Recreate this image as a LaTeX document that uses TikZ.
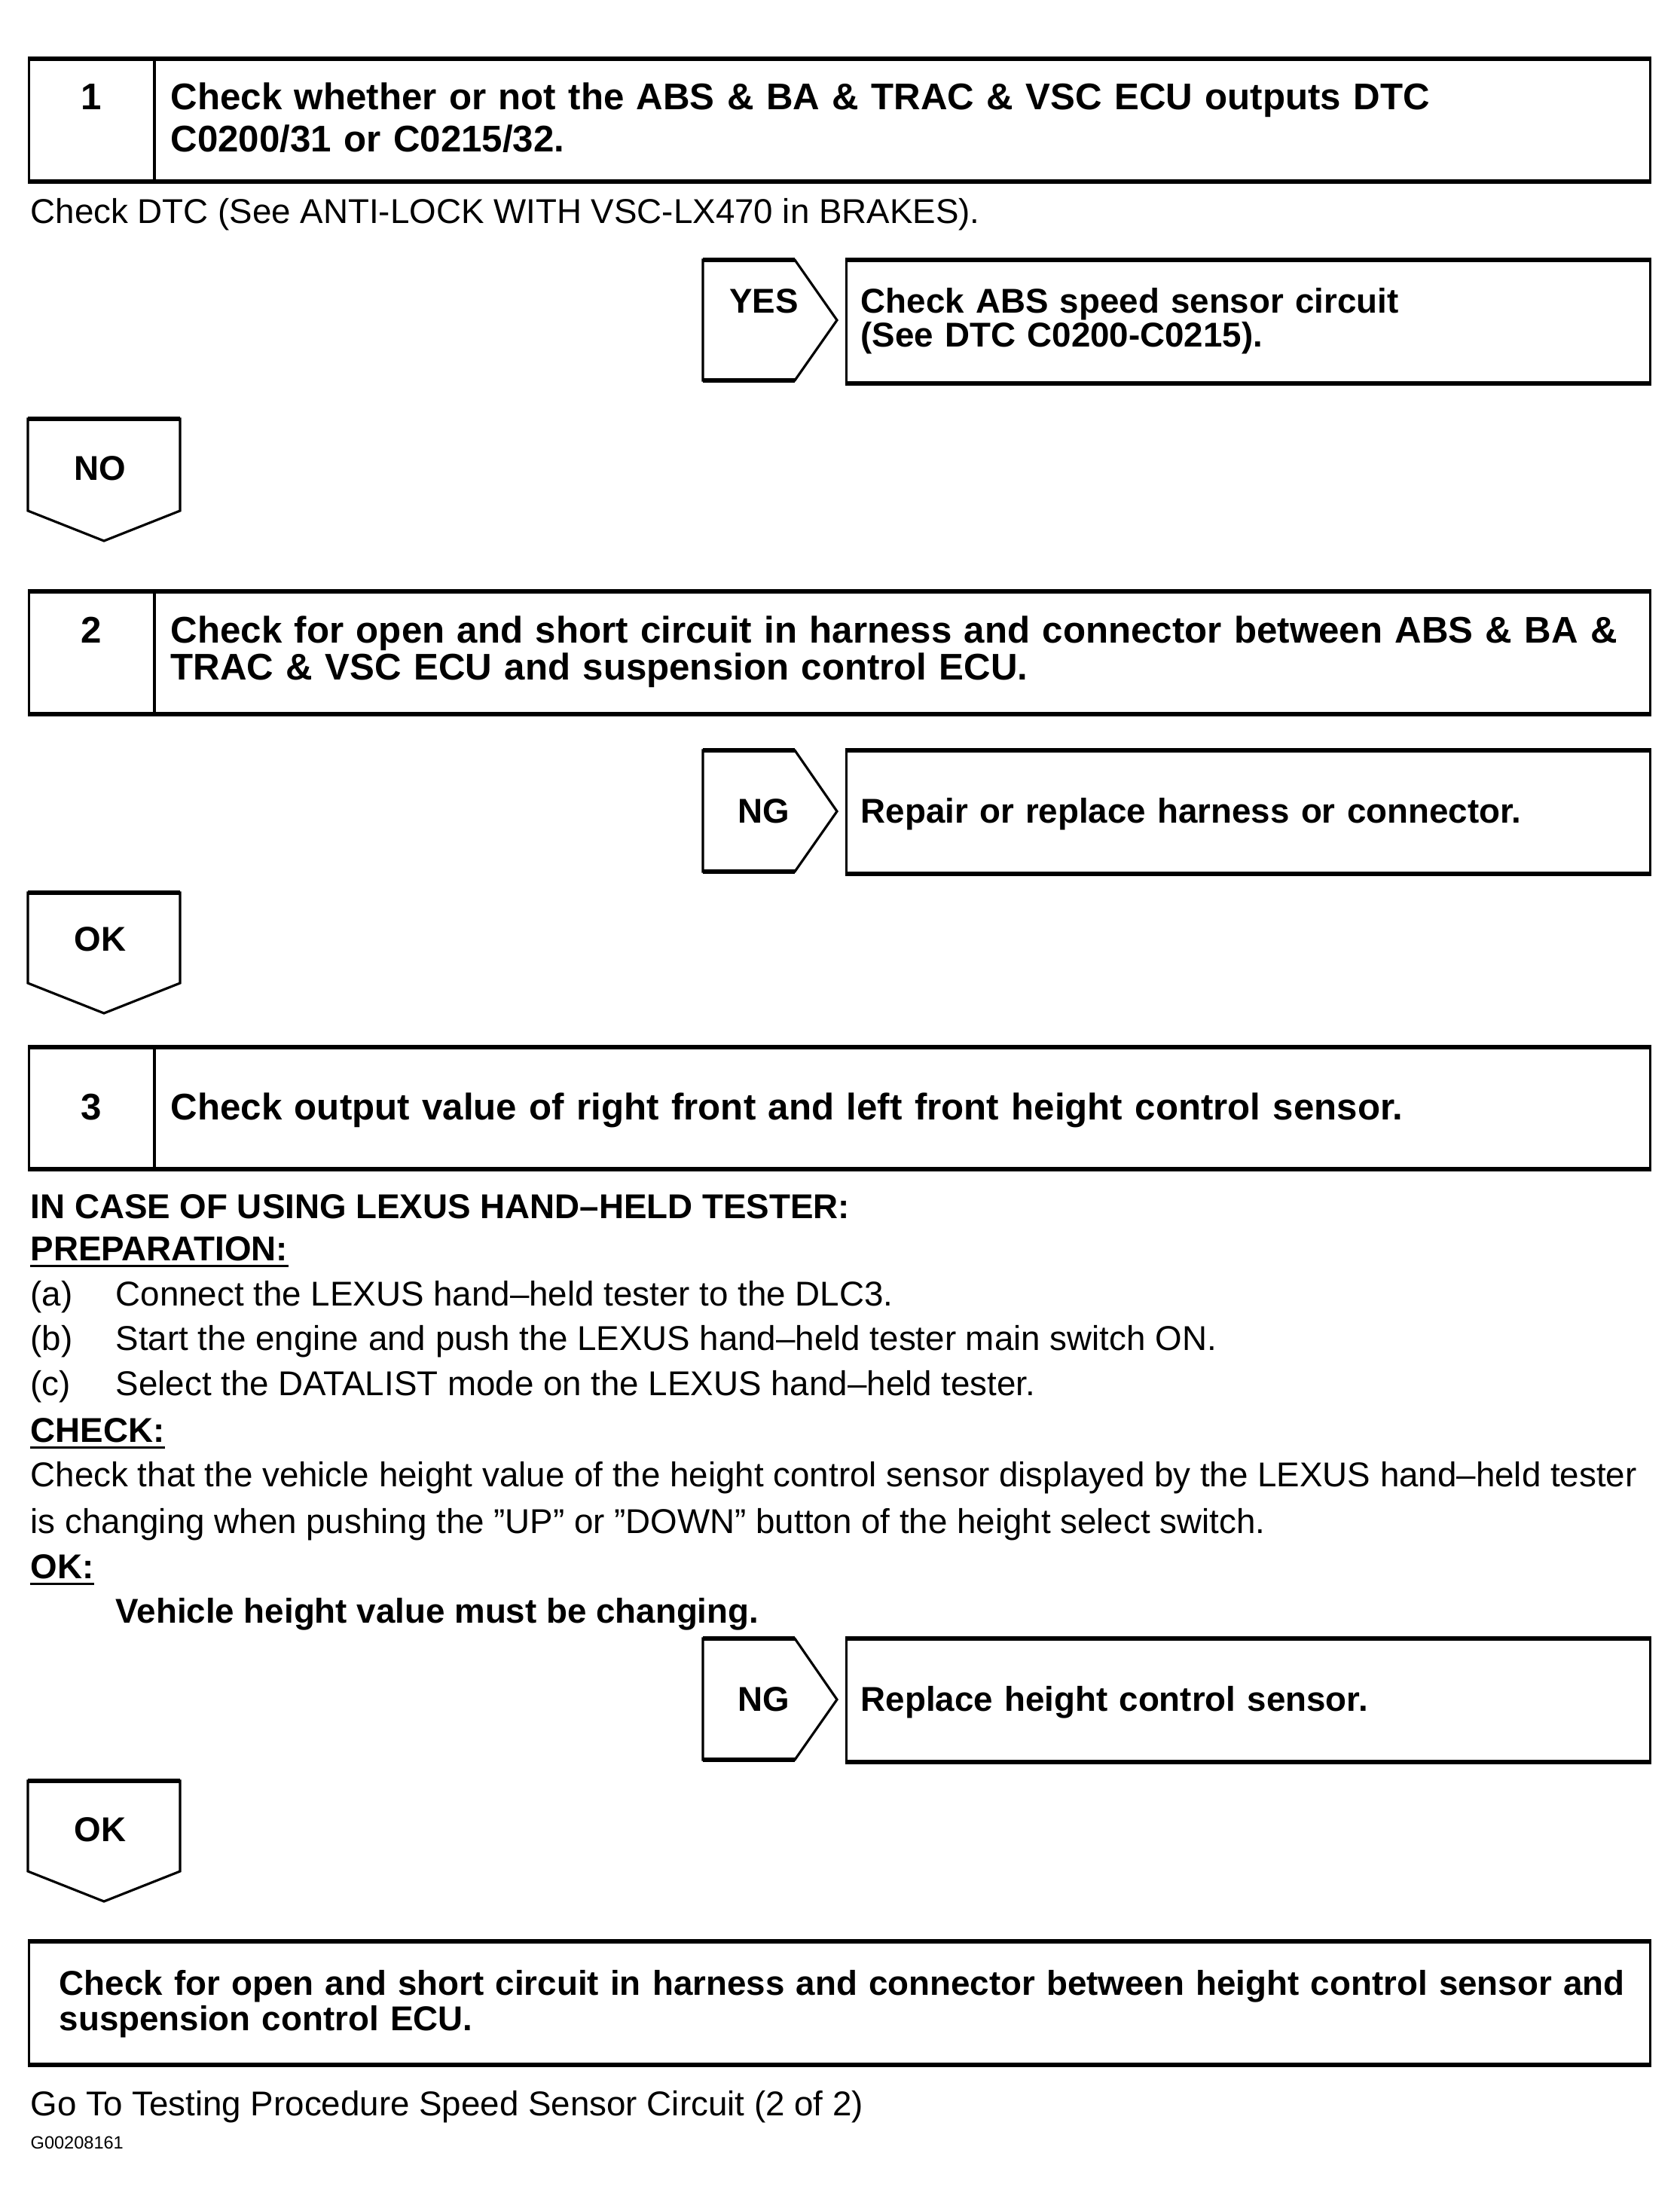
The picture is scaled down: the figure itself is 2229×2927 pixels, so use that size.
\documentclass[tikz,border=0pt]{standalone}
\usepackage{fontspec}
\setmainfont{Liberation Sans}
\usetikzlibrary{positioning}
\lineskiplimit=-20pt

\begin{document}
\begin{tikzpicture}[x=0.01cm, y=-0.01cm,
  frame/.style={draw, line width=0.9pt, line join=miter},
  edge/.style={line width=1.6pt},
  stepbox/.style={frame, rectangle, anchor=north west, minimum width=21.51cm, minimum height=1.60cm, inner sep=0pt},
  resbox/.style={frame, rectangle, anchor=north west, minimum width=10.66cm, minimum height=1.61cm, inner sep=0pt},
  stepnum/.style={anchor=base, inner sep=0pt, font=\bfseries\fontsize{14}{16.2}\selectfont},
  steptxt/.style={anchor=base west, inner sep=0pt, align=left, text width=19.5cm, font=\bfseries\fontsize{14}{16.2}\selectfont},
  tightxt/.style={steptxt, font=\bfseries\fontsize{14}{13}\selectfont},
  restxt/.style={anchor=base west, inner sep=0pt, align=left, text width=10.3cm, font=\bfseries\fontsize{13}{12.8}\selectfont},
  tag/.style={anchor=base, inner sep=0pt, font=\bfseries\fontsize{13}{15}\selectfont},
  body/.style={anchor=base west, inner sep=0pt, font=\fontsize{13}{17}\selectfont},
  head/.style={anchor=base west, inner sep=0pt, font=\bfseries\fontsize{13}{17}\selectfont},
  uline/.style={line width=0.8pt}
]
\useasboundingbox (0,0) rectangle (2229,2927);

% Step 1
\node[stepbox] (s1) at (37,78) {};
\draw[edge] (s1.north west) -- (s1.north east) (s1.south west) -- (s1.south east);
\draw[frame] (205,78) -- (205,238);
\node[stepnum] (n1) at (121,145) {1};
\node[steptxt] (t1) at (226,145)
   {Check whether or not the ABS \& BA \& TRAC \& VSC ECU outputs DTC\\C0200/31 or C0215/32.};
\node[body] (dtc) at (40,296) {Check DTC (See ANTI-LOCK WITH VSC-LX470 in BRAKES).};

% YES branch
\draw[frame] (933,345) -- (1055,345) -- (1111,425) -- (1055,505) -- (933,505) -- cycle;
\draw[edge] (933,345) -- (1055,345) (933,505) -- (1055,505);
\node[tag] (yes) at (1014,415) {YES};
\node[resbox] (r1) at (1122,345) {};
\draw[edge] (r1.north west) -- (r1.north east) (r1.south west) -- (r1.south east);
\node[restxt] (r1t) at (1142,415) {Check ABS speed sensor circuit\\(See DTC C0200-C0215).};

% NO
\draw[frame] (37,556) -- (239,556) -- (239,678) -- (138,718) -- (37,678) -- cycle;
\draw[edge] (37,556) -- (239,556);
\node[tag] (no) at (133,637) {NO};

% Step 2
\node[stepbox] (s2) at (37,785) {};
\draw[edge] (s2.north west) -- (s2.north east) (s2.south west) -- (s2.south east);
\draw[frame] (205,785) -- (205,945);
\node[stepnum] (n2) at (121,853) {2};
\node[tightxt] (t2) at (226,853)
   {Check for open and short circuit in harness and connector between ABS \& BA \&\\TRAC \& VSC ECU and suspension control ECU.};

% NG branch
\draw[frame] (933,996) -- (1055,996) -- (1111,1077) -- (1055,1157) -- (933,1157) -- cycle;
\draw[edge] (933,996) -- (1055,996) (933,1157) -- (1055,1157);
\node[tag] (ng1) at (1014,1092) {NG};
\node[resbox] (r2) at (1122,996) {};
\draw[edge] (r2.north west) -- (r2.north east) (r2.south west) -- (r2.south east);
\node[restxt] (r2t) at (1142,1092) {Repair or replace harness or connector.};

% OK
\draw[frame] (37,1185) -- (239,1185) -- (239,1305) -- (138,1345) -- (37,1305) -- cycle;
\draw[edge] (37,1185) -- (239,1185);
\node[tag] (ok1) at (133,1262) {OK};

% Step 3
\node[stepbox, minimum height=1.59cm] (s3) at (37,1390) {};
\draw[edge] (s3.north west) -- (s3.north east) (s3.south west) -- (s3.south east);
\draw[frame] (205,1390) -- (205,1549);
\node[stepnum] (n3) at (121,1486) {3};
\node[steptxt] (t3) at (226,1486) {Check output value of right front and left front height control sensor.};

% Check procedure
\node[head] (case) at (40,1617) {IN CASE OF USING LEXUS HAND–HELD TESTER:};
\node[head] (prep) at (40,1673) {PREPARATION:};
\draw[uline] ([yshift=-2.2pt]prep.base west) -- ([yshift=-2.2pt]prep.base east);
\node[body] (pa) at (40,1733) {(a)};
\node[body] (pat) at (153,1733) {Connect the LEXUS hand–held tester to the DLC3.};
\node[body] (pb) at (40,1792) {(b)};
\node[body] (pbt) at (153,1792) {Start the engine and push the LEXUS hand–held tester main switch ON.};
\node[body] (pc) at (40,1852) {(c)};
\node[body] (pct) at (153,1852) {Select the DATALIST mode on the LEXUS hand–held tester.};
\node[head] (chk) at (40,1914) {CHECK:};
\draw[uline] ([yshift=-2.2pt]chk.base west) -- ([yshift=-2.2pt]chk.base east);
\node[body] (chk1) at (40,1973) {Check that the vehicle height value of the height control sensor displayed by the LEXUS hand–held tester};
\node[body] (chk2) at (40,2035) {is changing when pushing the ”UP” or ”DOWN” button of the height select switch.};
\node[head] (okh) at (40,2095) {OK:};
\draw[uline] ([yshift=-2.2pt]okh.base west) -- ([yshift=-2.2pt]okh.base east);
\node[head] (spec) at (153,2154) {Vehicle height value must be changing.};

% NG branch
\draw[frame] (933,2175) -- (1055,2175) -- (1111,2256) -- (1055,2336) -- (933,2336) -- cycle;
\draw[edge] (933,2175) -- (1055,2175) (933,2336) -- (1055,2336);
\node[tag] (ng2) at (1014,2271) {NG};
\node[resbox] (r3) at (1122,2175) {};
\draw[edge] (r3.north west) -- (r3.north east) (r3.south west) -- (r3.south east);
\node[restxt] (r3t) at (1142,2271) {Replace height control sensor.};

% OK
\draw[frame] (37,2364) -- (239,2364) -- (239,2484) -- (138,2524) -- (37,2484) -- cycle;
\draw[edge] (37,2364) -- (239,2364);
\node[tag] (ok2) at (133,2444) {OK};

% Last step
\node[stepbox, minimum height=1.61cm] (s4) at (37,2577) {};
\draw[edge] (s4.north west) -- (s4.north east) (s4.south west) -- (s4.south east);
\node[restxt, text width=20.9cm, font=\bfseries\fontsize{13}{13.4}\selectfont] (t4) at (78,2648)
   {Check for open and short circuit in harness and connector between height control sensor and\\suspension control ECU.};

\node[body] (goto) at (40,2808) {Go To Testing Procedure Speed Sensor Circuit (2 of 2)};
\node[body, font=\fontsize{6.7}{8}\selectfont] (ref) at (40,2852) {G00208161};
\end{tikzpicture}
\end{document}
